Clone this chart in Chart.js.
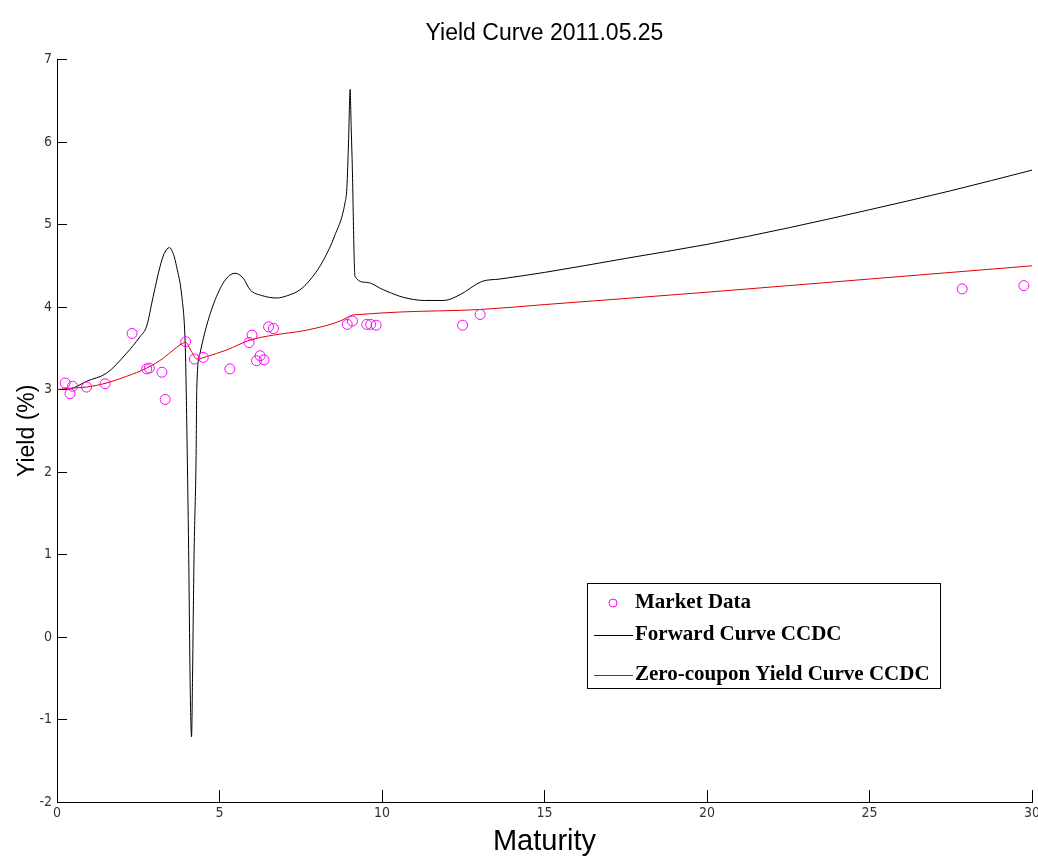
<!DOCTYPE html>
<html>
<head>
<meta charset="utf-8">
<title>Yield Curve 2011.05.25</title>
<script src="https://cdn.jsdelivr.net/npm/chart.js@4.4.1/dist/chart.umd.min.js"></script>
<style>
  html, body { margin: 0; padding: 0; background: #fff; }
  #chart { display: block; }
</style>
</head>
<body>
<canvas id="chart" width="1038" height="858"></canvas>
<script>
// market observations (maturity in years, yield in %)
const marketX = [0.25, 0.4, 0.48, 0.91, 1.48, 2.31, 2.76, 2.84, 3.23, 3.33, 3.96, 4.23, 4.5,
  5.32, 5.91, 6.0, 6.14, 6.25, 6.37, 6.51, 6.66, 8.93, 9.09, 9.53, 9.65, 9.82, 12.48, 13.02, 27.85, 29.75];
const marketY = [3.08, 2.95, 3.04, 3.03, 3.07, 3.68, 3.25, 3.26, 3.21, 2.88, 3.58, 3.37, 3.39,
  3.25, 3.57, 3.66, 3.35, 3.41, 3.36, 3.76, 3.74, 3.79, 3.83, 3.79, 3.79, 3.78, 3.78, 3.91, 4.22, 4.26];

// forward curve CCDC
const forwardX = [0, 0.3, 0.5, 0.91, 1.53, 2.14, 2.55, 2.76, 2.96, 3.17, 3.3, 3.46, 3.6, 3.68, 3.84,
  3.94, 3.97, 4.0, 4.05, 4.1, 4.14, 4.17, 4.2, 4.22, 4.28, 4.3, 4.4, 4.6, 4.91, 5.22, 5.48, 5.73,
  5.94, 6.3, 6.76, 7.1, 7.48, 7.85, 8.2, 8.55, 8.86, 8.92, 8.97, 9.02, 9.05, 9.08, 9.17, 9.52,
  10.04, 10.55, 10.86, 11.3, 11.9, 12.4, 13.07, 13.63, 15, 17.5, 20, 22.5, 25, 27.5, 30];
const forwardY = [3.0, 3.0, 3.02, 3.1, 3.2, 3.44, 3.64, 3.77, 4.13, 4.49, 4.65, 4.72, 4.62, 4.49, 4.13,
  3.6, 3.12, 2.4, 1.06, -0.64, -1.21, -0.5, 0.5, 1.06, 2.2, 3.0, 3.44, 3.77, 4.13, 4.35, 4.41, 4.35,
  4.21, 4.14, 4.11, 4.14, 4.21, 4.36, 4.57, 4.87, 5.26, 5.45, 6.0, 6.64, 6.2, 5.8, 4.37, 4.3,
  4.21, 4.13, 4.1, 4.08, 4.08, 4.15, 4.31, 4.34, 4.42, 4.59, 4.76, 4.96, 5.18, 5.41, 5.66];

// zero-coupon yield curve CCDC
const zeroX = [0, 0.5, 0.91, 1.53, 2.14, 2.76, 3.27, 3.58, 3.96, 4.14, 4.3, 4.6, 5.22, 5.94, 6.66,
  7.68, 8.71, 9.07, 9.32, 10.55, 13, 15, 20, 25, 30];
const zeroY = [3.0, 3.02, 3.03, 3.08, 3.16, 3.26, 3.38, 3.48, 3.57, 3.46, 3.37, 3.4, 3.48, 3.6, 3.66,
  3.72, 3.83, 3.9, 3.91, 3.94, 3.97, 4.03, 4.18, 4.34, 4.5];

const xTicks = [0, 5, 10, 15, 20, 25, 30];
const yTicks = [-2, -1, 0, 1, 2, 3, 4, 5, 6, 7];

const legendLabels = ["Market Data", "Forward Curve CCDC", "Zero-coupon Yield Curve CCDC"];

function toPoints(xs, ys) {
  return xs.map((x, i) => ({ x: x, y: ys[i] }));
}

const tickFont = { family: "'Liberation Sans Narrow', 'DejaVu Sans Condensed', 'Liberation Sans', sans-serif", size: 14 };

// matlab style legend box
const boxLegend = {
  id: "boxLegend",
  afterDatasetsDraw(chart) {
    const ctx = chart.ctx;
    const left = 587, top = 583, right = 940, bottom = 688;
    ctx.save();
    ctx.fillStyle = "#fff";
    ctx.fillRect(left, top, right - left, bottom - top);
    ctx.strokeStyle = "#000";
    ctx.lineWidth = 1;
    ctx.strokeRect(left + 0.5, top + 0.5, right - left, bottom - top);

    const rows = [603, 635, 675];
    const ds = chart.data.datasets;
    ctx.font = "bold 21px 'Liberation Serif', 'Times New Roman', serif";
    ctx.textBaseline = "middle";
    ctx.fillStyle = "#000";
    legendLabels.forEach((label, i) => {
      const y = rows[i];
      if (i === 0) {
        ctx.beginPath();
        ctx.arc(613, y, 4, 0, Math.PI * 2);
        ctx.strokeStyle = ds[0].borderColor;
        ctx.lineWidth = 1;
        ctx.stroke();
      } else {
        ctx.beginPath();
        ctx.moveTo(594, y + 0.5);
        ctx.lineTo(633, y + 0.5);
        ctx.strokeStyle = ds[i].borderColor;
        ctx.lineWidth = 1;
        ctx.stroke();
      }
      ctx.fillText(label, 635, y);
    });
    ctx.restore();
  }
};

new Chart(document.getElementById("chart"), {
  type: "scatter",
  data: {
    datasets: [
      {
        label: legendLabels[0],
        data: toPoints(marketX, marketY),
        showLine: false,
        pointStyle: "circle",
        pointRadius: 5,
        pointBorderWidth: 1,
        borderColor: "#ff00ff",
        backgroundColor: "rgba(0,0,0,0)",
        order: 0
      },
      {
        label: legendLabels[1],
        data: toPoints(forwardX, forwardY),
        showLine: true,
        borderColor: "#000000",
        borderWidth: 1,
        pointRadius: 0,
        cubicInterpolationMode: "monotone",
        order: 2
      },
      {
        label: legendLabels[2],
        data: toPoints(zeroX, zeroY),
        showLine: true,
        borderColor: "#e00000",
        borderWidth: 1,
        pointRadius: 0,
        cubicInterpolationMode: "monotone",
        order: 1
      }
    ]
  },
  options: {
    responsive: false,
    animation: false,
    layout: { padding: { right: 6 } },
    plugins: {
      legend: { display: false },
      tooltip: { enabled: false },
      title: {
        display: true,
        fullSize: false,
        text: "Yield Curve 2011.05.25",
        color: "#000",
        font: { family: "'Liberation Sans', Arial, sans-serif", size: 23, weight: "normal" },
        padding: { top: 20, bottom: 12 }
      }
    },
    scales: {
      x: {
        type: "linear",
        min: 0,
        max: 30,
        afterFit(scale) {
          scale.height = 56;
          scale.paddingLeft = 0;
          scale.paddingRight = 0;
        },
        afterBuildTicks(scale) { scale.ticks = xTicks.map(v => ({ value: v })); },
        ticks: { color: "#333", font: tickFont, padding: 15, maxRotation: 0 },
        grid: { drawOnChartArea: false, color: "#000", tickLength: -12, lineWidth: 1 },
        border: { display: true, color: "#000", width: 1 },
        title: {
          display: true, text: "Maturity", color: "#000",
          font: { family: "'Liberation Sans', Arial, sans-serif", size: 29 },
          padding: { top: 0, bottom: -1 }
        }
      },
      y: {
        type: "linear",
        min: -2,
        max: 7,
        afterFit(scale) {
          scale.width = 57;
          scale.paddingTop = 0;
          scale.paddingBottom = 0;
        },
        afterBuildTicks(scale) { scale.ticks = yTicks.map(v => ({ value: v })); },
        ticks: { color: "#333", font: tickFont, padding: 15 },
        grid: { drawOnChartArea: false, color: "#000", tickLength: -10, lineWidth: 1 },
        border: { display: true, color: "#000", width: 1 },
        title: {
          display: true, text: "Yield (%)", color: "#000",
          font: { family: "'Liberation Sans', Arial, sans-serif", size: 23 },
          padding: { top: 14, bottom: 0 }
        }
      }
    }
  },
  plugins: [boxLegend]
});
</script>
</body>
</html>
